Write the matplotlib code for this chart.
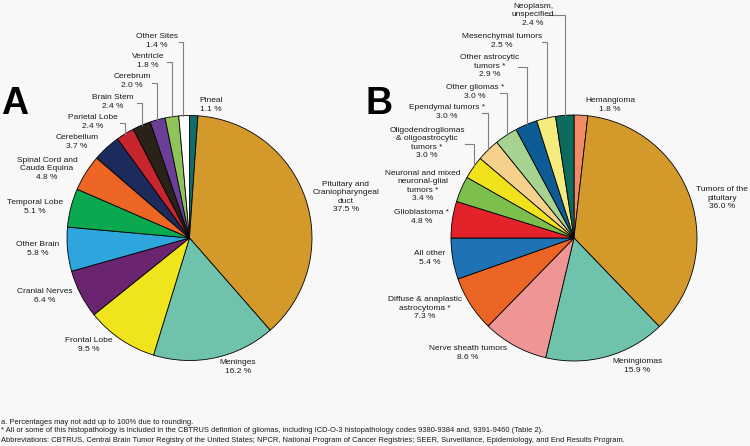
import numpy as np
import matplotlib.pyplot as plt

plt.rcParams['font.family'] = ['Liberation Sans', 'DejaVu Sans']

W, H = 750, 446

# Panel A: tumor site (clockwise from 12 o'clock)
sites = ['Pineal', 'Pituitary and\nCraniopharyngeal\nduct', 'Meninges', 'Frontal Lobe',
         'Cranial Nerves', 'Other Brain', 'Temporal Lobe', 'Spinal Cord and\nCauda Equina',
         'Cerebellum', 'Parietal Lobe', 'Brain Stem', 'Cerebrum', 'Ventricle', 'Other Sites']
site_pct = [1.1, 37.5, 16.2, 9.5, 6.4, 5.8, 5.1, 4.8, 3.7, 2.4, 2.4, 2.0, 1.8, 1.4]
site_colors = ['#0f6e6c', '#d4992b', '#6fc2ac', '#f0e41c', '#6a2470', '#2ea5dc', '#0aa84f',
               '#ec6525', '#1d2a5c', '#c8262f', '#2a2219', '#6b3e98', '#8fc45b', '#ffffff']

# Panel B: histology (clockwise from 12 o'clock)
hist = ['Hemangioma', 'Tumors of the\npituitary', 'Meningiomas', 'Nerve sheath tumors',
        'Diffuse & anaplastic\nastrocytoma *', 'All other', 'Glioblastoma *',
        'Neuronal and mixed\nneuronal-glial\ntumors *',
        'Oligodendrogliomas\n& oligoastrocytic\ntumors *', 'Ependymal tumors *',
        'Other gliomas *', 'Other astrocytic\ntumors *', 'Mesenchymal tumors',
        'Neoplasm,\nunspecified']
hist_pct = [1.8, 36.0, 15.9, 8.6, 7.3, 5.4, 4.8, 3.4, 3.0, 3.0, 3.0, 2.9, 2.5, 2.4]
hist_colors = ['#f08b65', '#d4992b', '#6fc2ac', '#ef9596', '#ec6525', '#1f72b3', '#e32329',
               '#7cbf4c', '#f1e21b', '#f6d18c', '#a6d490', '#0e5c96', '#f6ec7e', '#0d6b5e']

# label layout in pixels: (text x, text y, leader (start x, end x, y) or None)
lay_a = {
    'Pineal': (211, 105, None),
    'Pituitary and\nCraniopharyngeal\nduct': (346, 197, None),
    'Meninges': (238, 367, None),
    'Frontal Lobe': (89, 345, None),
    'Cranial Nerves': (45, 296, None),
    'Other Brain': (38, 249, None),
    'Temporal Lobe': (35, 207, None),
    'Spinal Cord and\nCauda Equina': (47, 169, None),
    'Cerebellum': (77, 142, None),
    'Parietal Lobe': (93, 122, (120, 125, 123)),
    'Brain Stem': (113, 102, (137, 142, 103)),
    'Cerebrum': (132, 81, (152, 157, 83)),
    'Ventricle': (148, 61, (167, 172, 62)),
    'Other Sites': (157, 41, (179, 183, 42)),
}
lay_b = {
    'Hemangioma': (610, 105, None),
    'Tumors of the\npituitary': (722, 198, None),
    'Meningiomas': (637, 366, None),
    'Nerve sheath tumors': (468, 353, None),
    'Diffuse & anaplastic\nastrocytoma *': (425, 308, None),
    'All other': (430, 258, None),
    'Glioblastoma *': (422, 217, None),
    'Neuronal and mixed\nneuronal-glial\ntumors *': (423, 186, None),
    'Oligodendrogliomas\n& oligoastrocytic\ntumors *': (427, 143, (465, 474, 144)),
    'Ependymal tumors *': (447, 112, (482, 488, 113)),
    'Other gliomas *': (475, 92, (500, 507, 93)),
    'Other astrocytic\ntumors *': (490, 66, (518, 527, 67)),
    'Mesenchymal tumors': (502, 41, (542, 547, 42)),
    'Neoplasm,\nunspecified': (533, 15, (547, 565, 15)),
}

fig = plt.figure(figsize=(7.5, 4.46), dpi=100)
fig.patch.set_facecolor('#f8f8f8')
ax = fig.add_axes([0, 0, 1, 1])
ax.set_facecolor('#f8f8f8')


def draw_panel(labels, pct, colors, layout, cx, cy, r):
    ax.pie(pct, colors=colors, startangle=90, counterclock=False,
           center=(cx, H - cy), radius=r,
           wedgeprops=dict(edgecolor='black', linewidth=0.6))
    for lab, p in zip(labels, pct):
        tx, ty, lead = layout[lab]
        ax.text(tx, H - ty, f'{lab}\n{p:.1f} %', ha='center', va='center',
                fontsize=6, linespacing=1.3, color='#1a1a1a')
        if lead is not None:
            x0, x1, ly = lead
            y_edge = cy - np.sqrt(r**2 - (x1 - cx)**2)
            ax.plot([x0, x1, x1], [H - ly, H - ly, H - y_edge], color='#808080', lw=0.8,
                    solid_joinstyle='miter')


draw_panel(sites, site_pct, site_colors, lay_a, 189.5, 238, 122.5)
draw_panel(hist, hist_pct, hist_colors, lay_b, 574, 238, 123)

ax.set_xlim(0, W)
ax.set_ylim(0, H)
ax.set_aspect('auto')
ax.axis('off')

ax.text(1, H - 104, 'A', fontsize=27, fontweight='bold', ha='left', va='center',
        family=['Liberation Sans'])
ax.text(365, H - 104, 'B', fontsize=27, fontweight='bold', ha='left', va='center',
        family=['Liberation Sans'])

notes = ['a. Percentages may not add up to 100% due to rounding.',
         '* All or some of this histopathology is included in the CBTRUS definition of gliomas, '
         'including ICD-O-3 histopathology codes 9380-9384 and, 9391-9460 (Table 2).',
         'Abbreviations: CBTRUS, Central Brain Tumor Registry of the United States; NPCR, '
         'National Program of Cancer Registries; SEER, Surveillance, Epidemiology, and End Results Program.']
for i, n in enumerate(notes):
    ax.text(1, H - (422 + 9 * i), n, fontsize=5.4, ha='left', va='center', color='#1a1a1a')

fig.savefig('out.png', dpi=100, facecolor=fig.get_facecolor())
